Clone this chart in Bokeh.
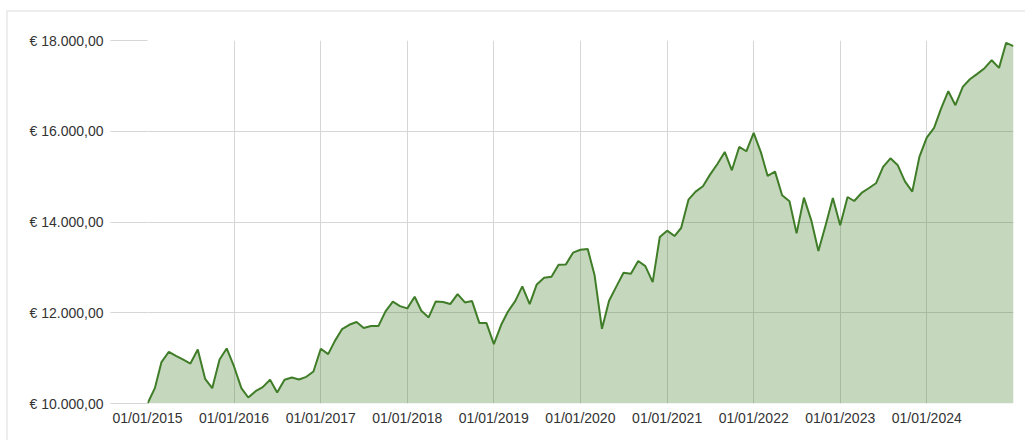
import pandas as pd
from bokeh.plotting import figure
from bokeh.models import Range1d, FixedTicker, DatetimeTickFormatter
from bokeh.embed import file_html
from bokeh.resources import INLINE

# Monthly portfolio value (EUR), first of each month 2015-01 .. 2025-01
dates = pd.date_range("2015-01-01", periods=121, freq="MS")
values = [
    10000, 10338, 10912, 11140, 11050, 10965, 10880, 11190, 10544, 10338, 10970, 11213,
    10816, 10338, 10132, 10272, 10360, 10522, 10243, 10522, 10574, 10530, 10588, 10706,
    11206, 11088, 11375, 11640, 11735, 11795, 11665, 11706, 11706, 12029, 12243, 12147,
    12096, 12353, 12044, 11897, 12250, 12235, 12191, 12412, 12228, 12257, 11772, 11772,
    11309, 11735, 12022, 12257, 12581, 12191, 12625, 12772, 12794, 13059, 13066, 13324,
    13388, 13404, 12824, 11647, 12265, 12581, 12882, 12860, 13140, 13029, 12676, 13669,
    13809, 13691, 13868, 14493, 14669, 14787, 15044, 15279, 15544, 15140, 15654, 15559,
    15963, 15529, 15015, 15110, 14588, 14456, 13750, 14537, 14037, 13360, 13941, 14529,
    13926, 14551, 14463, 14640, 14743, 14853, 15213, 15404, 15250, 14897, 14669, 15434,
    15860, 16073, 16493, 16882, 16574, 16978, 17147, 17265, 17390, 17566, 17397, 17949,
    17875,
]

x_tick_years = list(range(2015, 2025))
y_ticks = [10000, 12000, 14000, 16000, 18000]
y_tick_labels = ["€ 10.000,00", "€ 12.000,00", "€ 14.000,00", "€ 16.000,00", "€ 18.000,00"]

FONT = "Liberation Sans"
LINE = "#407d28"
GRID = "#d6d6d6"

p = figure(
    width=1025, height=440,
    x_axis_type="datetime",
    x_range=Range1d(pd.Timestamp("2015-01-01"), pd.Timestamp("2025-01-01")),
    y_range=Range1d(10000, 18000),
    output_backend="svg", toolbar_location=None,
    min_border_left=147, min_border_right=12, min_border_top=40, min_border_bottom=37,
)
p.styles = {
    "background-color": "white",
    "background-image": "linear-gradient(#ededed, #ededed), linear-gradient(#ededed, #ededed)",
    "background-size": "1019px 2px, 2px 430px",
    "background-position": "6px 10px, 6px 10px",
    "background-repeat": "no-repeat",
}
p.outline_line_color = None
p.background_fill_color = "white"
p.border_fill_alpha = 0

p.varea(x=dates, y1=10000, y2=values, fill_color=LINE, fill_alpha=0.3)
p.line(x=dates, y=values, line_color=LINE, line_width=2)

xticks = [pd.Timestamp(f"{y}-01-01").value / 1e6 for y in x_tick_years]
p.xaxis.ticker = FixedTicker(ticks=xticks)
fmt = "%d/%m/%Y"
p.xaxis.formatter = DatetimeTickFormatter(
    milliseconds=fmt, seconds=fmt, minsec=fmt, minutes=fmt, hourmin=fmt,
    hours=fmt, days=fmt, months=fmt, years=fmt,
)
p.xaxis.axis_line_color = None
p.xaxis.major_tick_line_color = None
p.xaxis.minor_tick_line_color = None
p.xaxis.major_tick_out = 0
p.xaxis.major_label_standoff = 6

p.yaxis.ticker = FixedTicker(ticks=y_ticks)
p.yaxis.major_label_overrides = dict(zip(y_ticks, y_tick_labels))
p.yaxis.axis_line_color = None
p.yaxis.minor_tick_line_color = None
p.yaxis.major_tick_line_color = GRID
p.yaxis.major_tick_out = 37
p.yaxis.major_tick_in = 0
p.yaxis.major_label_standoff = 7

for ax in (p.xaxis, p.yaxis):
    ax.major_label_text_font = FONT
    ax.major_label_text_font_size = "14px"
    ax.major_label_text_color = "#333333"

p.xgrid.grid_line_color = GRID
p.ygrid.grid_line_color = GRID

open("out.html", "w").write(file_html(p, INLINE))
